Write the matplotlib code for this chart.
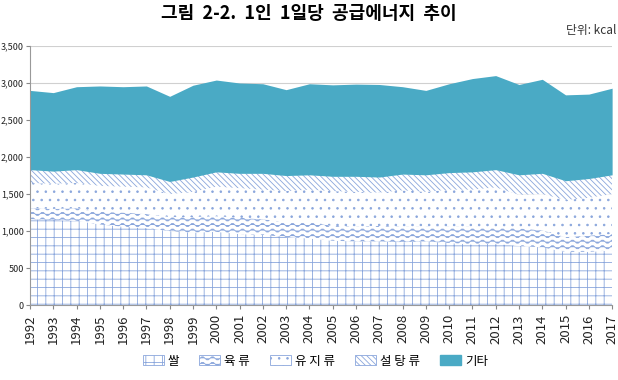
import warnings
import numpy as np
import matplotlib
matplotlib.use("Agg")
from matplotlib import pyplot as plt
from matplotlib import hatch as mhatch
from matplotlib.path import Path
from matplotlib.patches import Patch
from matplotlib.ticker import FuncFormatter

warnings.filterwarnings('ignore')
plt.rcParams['font.family'] = ['Noto Sans CJK KR', 'DejaVu Sans']
plt.rcParams['hatch.linewidth'] = 0.6

years = list(range(1992, 2018))

# cumulative tops (kcal)
rice_top = [1160, 1150, 1140, 1090, 1060, 1040, 1000, 980, 990, 960, 950, 920, 900,
            870, 860, 860, 850, 860, 840, 820, 830, 800, 780, 720, 720, 740]
meat_top = [1310, 1300, 1310, 1260, 1250, 1230, 1190, 1190, 1200, 1180, 1160, 1120, 1120,
            1070, 1060, 1070, 1060, 1060, 1060, 1060, 1050, 1040, 1010, 920, 940, 960]
oil_top = [1650, 1640, 1650, 1610, 1600, 1590, 1500, 1530, 1600, 1580, 1560, 1540, 1560,
           1540, 1530, 1520, 1550, 1530, 1560, 1560, 1590, 1490, 1500, 1420, 1450, 1500]
sugar_top = [1830, 1810, 1830, 1780, 1770, 1760, 1670, 1730, 1800, 1780, 1780, 1750, 1760,
             1740, 1740, 1730, 1770, 1760, 1790, 1800, 1830, 1760, 1780, 1680, 1710, 1760]
total = [2900, 2870, 2950, 2960, 2950, 2960, 2820, 2970, 3040, 3000, 2990, 2910, 2990,
         2975, 2985, 2980, 2950, 2900, 2990, 3060, 3100, 2980, 3050, 2840, 2850, 2930]

labels = ['쌀', '육 류', '유 지 류', '설 탕 류', '기타']
hatch_col = '#8aa6dc'
teal = '#4aaac5'


# wavy hatch for the meat band, '~' in a hatch string
class WaveHatch(mhatch.HatchPatternBase):
    def __init__(self, hatch, density):
        self.num_lines = int(hatch.count('~') * density)
        self.seg = 60
        self.num_vertices = self.num_lines * (self.seg + 1)

    def set_vertices_and_codes(self, vertices, codes):
        n = self.seg + 1
        t = np.linspace(0, 1, n)
        for i in range(self.num_lines):
            y0 = (i + 0.5) / self.num_lines
            vertices[i * n:(i + 1) * n, 0] = t
            vertices[i * n:(i + 1) * n, 1] = y0 + 0.3 / self.num_lines * np.sin(2 * np.pi * 10 * t)
            codes[i * n] = Path.MOVETO
            codes[i * n + 1:(i + 1) * n] = Path.LINETO


mhatch._hatch_types.append(WaveHatch)

x = np.arange(len(years))
zero = np.zeros(len(years))
layers = [(zero, rice_top), (rice_top, meat_top), (meat_top, oil_top),
          (oil_top, sugar_top), (sugar_top, total)]
hatches = ['++', '~~~', '..', '\\' * 6, None]

fig = plt.figure(figsize=(6.18, 3.8), dpi=100)
ax = fig.add_axes([0.0485, 0.197, 0.942, 0.682])

ax.set_axisbelow(True)
ax.yaxis.grid(True, color='#d0d0d0', linewidth=0.8)

handles = []
for (lo, hi), h, lab in zip(layers, hatches, labels):
    if h is None:
        ax.fill_between(x, lo, hi, facecolor=teal, edgecolor=teal, linewidth=0)
        handles.append(Patch(facecolor=teal, edgecolor=teal, label=lab))
    else:
        ax.fill_between(x, lo, hi, facecolor='white', edgecolor=hatch_col,
                        hatch=h, linewidth=0)
        handles.append(Patch(facecolor='white', edgecolor=hatch_col, hatch=h,
                             linewidth=0.6, label=lab))

ax.set_xlim(0, len(years) - 1)
ax.set_ylim(0, 3500)
ax.set_xticks(x)
ax.set_xticklabels([str(y) for y in years], rotation=90, fontsize=9.5, color='#222222')
ax.set_yticks(range(0, 3501, 500))
ax.yaxis.set_major_formatter(FuncFormatter(lambda v, p: f'{int(v):,}'))
ax.tick_params(axis='y', labelsize=6.5, colors='#888888', labelcolor='#222222',
               length=3, pad=1.5)
ax.tick_params(axis='x', colors='#888888', labelcolor='#222222', length=3)

for s in ['top', 'right']:
    ax.spines[s].set_visible(False)
for s in ['left', 'bottom']:
    ax.spines[s].set_color('#999999')
    ax.spines[s].set_linewidth(0.8)

fig.text(0.5, 0.964, '그림  2-2.  1인  1일당  공급에너지  추이', ha='center', va='center',
         fontsize=13, fontweight='bold')
fig.text(0.998, 0.92, '단위: kcal', ha='right', va='center', fontsize=8.5, color='#333333')

fig.legend(handles=handles, loc='center', bbox_to_anchor=(0.51, 0.05), ncol=5,
           frameon=False, fontsize=9, handlelength=1.7, handleheight=0.9,
           columnspacing=1.6, handletextpad=0.3)

fig.savefig('out.png', dpi=100)
